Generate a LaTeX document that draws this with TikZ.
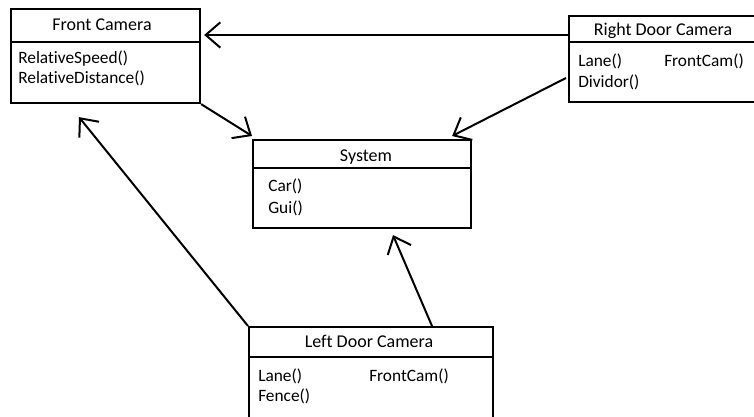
\documentclass[tikz,border=0pt]{standalone}
\usepackage{fontspec}
\setmainfont{Carlito}[Ligatures={NoCommon}]
\usetikzlibrary{arrows.meta}
\begin{document}
\begin{tikzpicture}[x=0.75pt,y=-0.75pt,
  umlbox/.style={draw=black,line width=1.6pt,anchor=north west,inner sep=0pt},
  title/.style={font=\fontsize{13.5}{15}\selectfont,inner sep=0pt,anchor=center},
  member/.style={font=\fontsize{13}{15}\selectfont,inner sep=0pt,anchor=west},
  divider/.style={line width=1.6pt},
  assoc/.style={line width=1.5pt,-{Straight Barb[length=11pt,width=19pt,line width=1.5pt]}}]
\clip (0,0) rectangle (754,417);
\fill[white] (0,0) rectangle (754,417);
% boxes
\node[umlbox,minimum width=141.75pt,minimum height=70.5pt] (fc) at (10,8) {};
\node[umlbox,minimum width=150pt,minimum height=64.5pt] (rd) at (568,15) {};
\node[umlbox,minimum width=163.5pt,minimum height=66pt] (sys) at (252,139) {};
\node[umlbox,minimum width=183pt,minimum height=80pt] (ld) at (248,326) {};
% dividers
\draw[divider] (fc.west |- 0,42) -- (fc.east |- 0,42);
\draw[divider] (rd.west |- 0,42) -- (rd.east |- 0,42);
\draw[divider] (sys.west |- 0,168) -- (sys.east |- 0,168);
\draw[divider] (ld.west |- 0,357) -- (ld.east |- 0,357);
% texts
\node[title] (fct) at (102,25) {Front Camera};
\node[member] (fc1) at (18,59) {RelativeSpeed()};
\node[member] (fc2) at (18,78) {RelativeDistance()};
\node[title] (rdt) at (663,31) {Right Door Camera};
\node[member] (rd1) at (578,61) {Lane()};
\node[member] (rd2) at (664,61) {FrontCam()};
\node[member] (rd3) at (578,82) {Dividor()};
\node[title] (syst) at (366,157) {System};
\node[member] (sys1) at (268,186) {Car()};
\node[member] (sys2) at (268,208) {Gui()};
\node[title] (ldt) at (369,341) {Left Door Camera};
\node[member] (ld1) at (258,376) {Lane()};
\node[member] (ld2) at (369,376) {FrontCam()};
\node[member] (ld3) at (258,396) {Fence()};
% connectors
\draw[assoc] ([yshift=-15pt]rd.north west) -- ([xshift=2.25pt,yshift=-20.25pt]fc.north east);
\draw[assoc] (fc.south east) -- ([yshift=2.25pt]sys.north west);
\draw[assoc] ([xshift=-1.5pt,yshift=-47.25pt]rd.north west) -- ([xshift=-15pt,yshift=2.25pt]sys.north east);
\draw[assoc] (ld.north west) -- ([xshift=51.75pt,yshift=-9.75pt]fc.south west);
\draw[assoc] ([xshift=138pt]ld.north west) -- ([xshift=105.75pt,yshift=-4.5pt]sys.south west);
\end{tikzpicture}
\end{document}
